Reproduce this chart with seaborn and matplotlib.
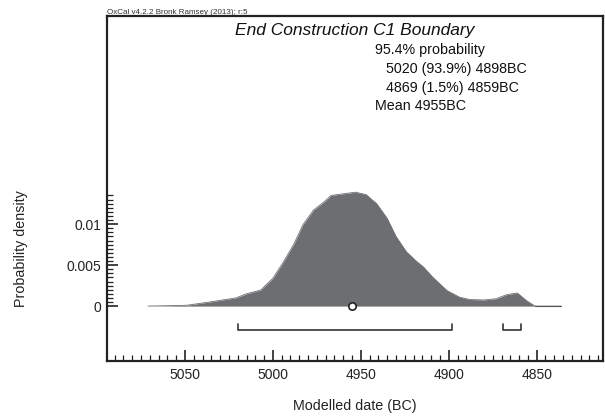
import numpy as np
import pandas as pd
import seaborn as sns
import matplotlib.pyplot as plt
from matplotlib.ticker import FixedLocator

# Posterior density of the boundary (years BC)
years = [5071, 5049, 5036, 5021, 5015, 5007, 5000, 4994, 4988, 4983, 4977,
         4971, 4967, 4960, 4953, 4947, 4941, 4935, 4930, 4924, 4918, 4914.5,
         4909, 4901, 4894, 4888, 4880, 4873, 4867, 4861, 4856, 4851, 4836]
density = [0, 0.0001, 0.0005, 0.001, 0.0015, 0.00195, 0.0034, 0.0054, 0.0076,
           0.0099, 0.0117, 0.0127, 0.0135, 0.0137, 0.0139, 0.0136, 0.0125,
           0.0107, 0.0085, 0.0066, 0.0054, 0.0048, 0.0035, 0.0019, 0.0011,
           0.0008, 0.00075, 0.0009, 0.0014, 0.0016, 0.0007, 0, 0]

# 95.4% ranges and mean
range_starts = [5020, 4869]
range_ends = [4898, 4859]
mean_year = 4955

title = 'End Construction C1 Boundary'
summary = ['95.4% probability', '5020 (93.9%) 4898BC', '4869 (1.5%) 4859BC', 'Mean 4955BC']

df = pd.DataFrame({'year': years, 'density': density})

sns.set_style('ticks')
plt.rcParams['font.family'] = ['Liberation Sans', 'DejaVu Sans']

W, H = 605, 416
fig = plt.figure(figsize=(W / 100, H / 100), dpi=100)
ax = fig.add_axes([106.7 / W, 1 - 361 / H, (603 - 106.7) / W, (361 - 16) / H])

gray = '#6d6e71'
ax.fill_between(df['year'], 0, df['density'], color=gray, linewidth=0)
sns.lineplot(data=df, x='year', y='density', ax=ax, color=gray, linewidth=0.6)
ax.plot([years[-2], years[-1]], [0, 0], color='#555555', linewidth=0.8)

# range brackets
yb = -0.00286
tick_h = 0.0007
for s, e in zip(range_starts, range_ends):
    ax.plot([s, s, e, e], [yb + tick_h, yb, yb, yb + tick_h], color='#333333', linewidth=1.2)

# mean marker
ax.scatter([mean_year], [0], s=28, facecolor='white', edgecolor='#222222', linewidth=1.2, zorder=5)

ax.set_xlim(5094.5, 4812.3)
ax.set_ylim(-0.0067, 0.0354)

ax.xaxis.set_major_locator(FixedLocator([5050, 5000, 4950, 4900, 4850]))
ax.xaxis.set_minor_locator(FixedLocator(np.arange(4815, 5095, 5)))
ax.yaxis.set_major_locator(FixedLocator([0, 0.005, 0.01]))
ax.yaxis.set_minor_locator(FixedLocator(np.arange(0, 0.0136, 0.0005)))
ax.set_yticklabels(['0', '0.005', '0.01'])
ax.set_xticklabels(['5050', '5000', '4950', '4900', '4850'])

ax.tick_params(axis='both', which='major', direction='in', length=8, width=1.2,
               colors='#222222', labelsize=10, labelcolor='#222222')
ax.tick_params(axis='both', which='minor', direction='in', length=4, width=0.9, colors='#222222')
ax.tick_params(axis='x', which='major', pad=5)
ax.tick_params(axis='y', which='major', pad=4)

for sp in ax.spines.values():
    sp.set_visible(True)
    sp.set_linewidth(1.6)
    sp.set_color('#222222')

ax.set_xlabel('')
ax.set_ylabel('')

def px(x, y):
    return x / W, 1 - y / H

fig.text(*px(354.8, 35), title, fontsize=12.5, style='italic', ha='center',
         va='baseline', color='#111111')
fig.text(*px(375, 54), summary[0], fontsize=10.3, va='baseline', color='#111111')
fig.text(*px(386, 72.7), summary[1], fontsize=10.3, va='baseline', color='#111111')
fig.text(*px(386, 91.7), summary[2], fontsize=10.3, va='baseline', color='#111111')
fig.text(*px(375, 110), summary[3], fontsize=10.3, va='baseline', color='#111111')

fig.text(*px(106.7, 14), 'OxCal v4.2.2 Bronk Ramsey (2013); r:5', fontsize=5.8,
         va='baseline', color='#333333')

fig.text(*px(355, 410), 'Modelled date (BC)', fontsize=10.3, ha='center',
         va='baseline', color='#222222')
fig.text(*px(21, 249), 'Probability density', fontsize=10.3, rotation=90,
         ha='center', va='center', color='#222222')

fig.savefig('out.png', dpi=100)
